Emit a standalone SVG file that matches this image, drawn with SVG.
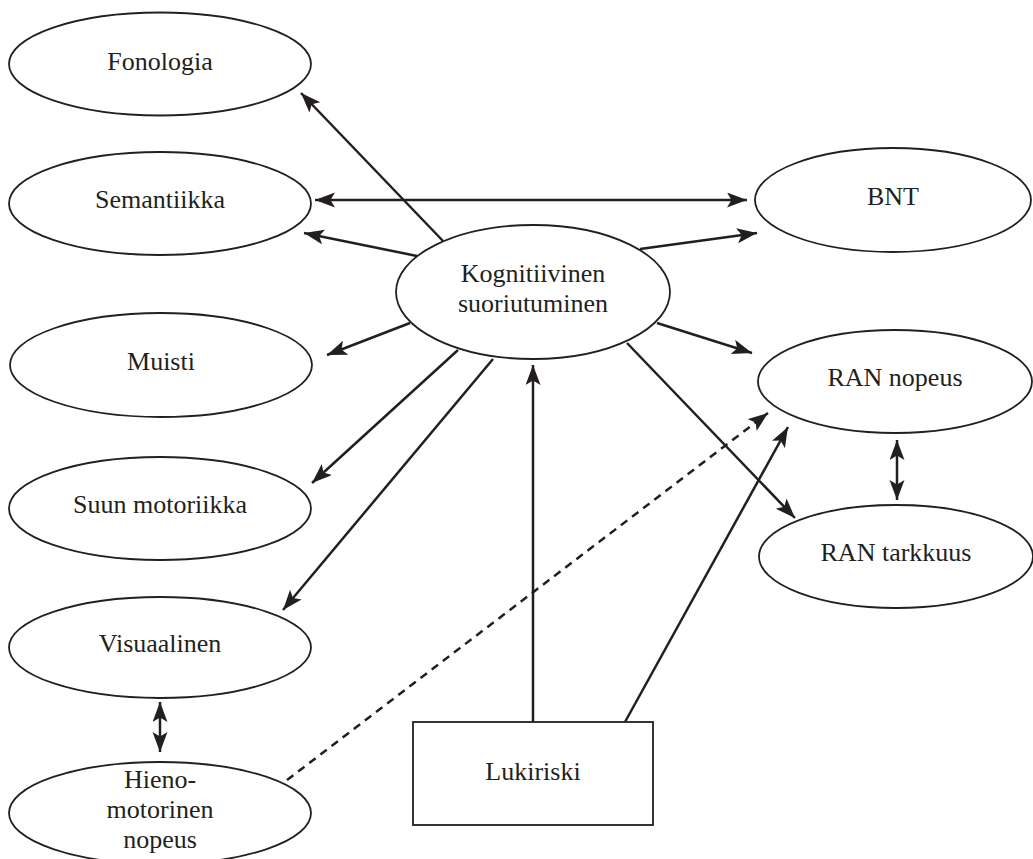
<svg xmlns="http://www.w3.org/2000/svg" width="1033" height="859" viewBox="0 0 1033 859">
<style>
.n{fill:#fff;stroke:#231f20;stroke-width:1.8}
.t{font-family:"Liberation Serif","Times New Roman",serif;font-size:26px;fill:#231f20;text-anchor:middle}
.c{stroke:#231f20;stroke-width:2.5;fill:none}
.a{marker-end:url(#ah)}
.d{marker-start:url(#ah);marker-end:url(#ah)}
.dash{stroke-dasharray:8,6}
</style>
<defs>
<marker id="ah" markerUnits="userSpaceOnUse" markerWidth="22" markerHeight="16" refX="20" refY="7.5" orient="auto-start-reverse">
<path d="M0,0 L20,7.5 L0,15 L4.5,7.5 Z" fill="#231f20"/>
</marker>
</defs>
<rect width="1033" height="859" fill="#fff"/>
<g id="connectors">
<line class="c a" x1="443" y1="241" x2="301" y2="93"/>
<line class="c d" x1="315" y1="200" x2="747" y2="200"/>
<line class="c a" x1="417" y1="256" x2="304" y2="233"/>
<line class="c a" x1="410" y1="323" x2="327" y2="355"/>
<line class="c a" x1="458" y1="350" x2="312" y2="483"/>
<line class="c a" x1="493" y1="359" x2="283" y2="610"/>
<line class="c a" x1="640" y1="249" x2="757" y2="233"/>
<line class="c a" x1="657" y1="323" x2="752" y2="353"/>
<line class="c a" x1="627" y1="343" x2="795" y2="518"/>
<line class="c a" x1="533" y1="722" x2="533" y2="365"/>
<line class="c a" x1="625" y1="722" x2="788" y2="427"/>
<line class="c a dash" x1="287" y1="780" x2="768" y2="413"/>
<line class="c d" x1="160" y1="702" x2="160" y2="752"/>
<line class="c d" x1="897" y1="440" x2="897" y2="500"/>
</g>
<g id="fonologia"><ellipse class="n" cx="160" cy="64" rx="151" ry="51.5"/><text class="t" x="160" y="70">Fonologia</text></g>
<g id="semantiikka"><ellipse class="n" cx="160" cy="203.5" rx="151" ry="51.5"/><text class="t" x="160" y="208">Semantiikka</text></g>
<g id="muisti"><ellipse class="n" cx="161" cy="365" rx="151" ry="52"/><text class="t" x="161" y="370">Muisti</text></g>
<g id="suun-motoriikka"><ellipse class="n" cx="160" cy="508.5" rx="151" ry="51.5"/><text class="t" x="160" y="513">Suun motoriikka</text></g>
<g id="visuaalinen"><ellipse class="n" cx="160" cy="647.5" rx="151" ry="50.5"/><text class="t" x="160" y="652">Visuaalinen</text></g>
<g id="hienomotorinen"><ellipse class="n" cx="160" cy="813" rx="151" ry="51"/><text class="t" x="160" y="788">Hieno-</text><text class="t" x="160" y="818">motorinen</text><text class="t" x="160" y="848">nopeus</text></g>
<g id="kognitiivinen"><ellipse class="n" cx="533" cy="292" rx="137" ry="67"/><text class="t" x="533" y="282">Kognitiivinen</text><text class="t" x="533" y="312">suoriutuminen</text></g>
<g id="bnt"><ellipse class="n" cx="893" cy="200" rx="138" ry="52"/><text class="t" x="893" y="205">BNT</text></g>
<g id="ran-nopeus"><ellipse class="n" cx="895" cy="381.5" rx="137" ry="51.5"/><text class="t" x="895" y="386">RAN nopeus</text></g>
<g id="ran-tarkkuus"><ellipse class="n" cx="896" cy="556.5" rx="137" ry="51.5"/><text class="t" x="896" y="561">RAN tarkkuus</text></g>
<g id="lukiriski"><rect class="n" x="413" y="722" width="240" height="103"/><text class="t" x="533" y="780">Lukiriski</text></g>
</svg>
